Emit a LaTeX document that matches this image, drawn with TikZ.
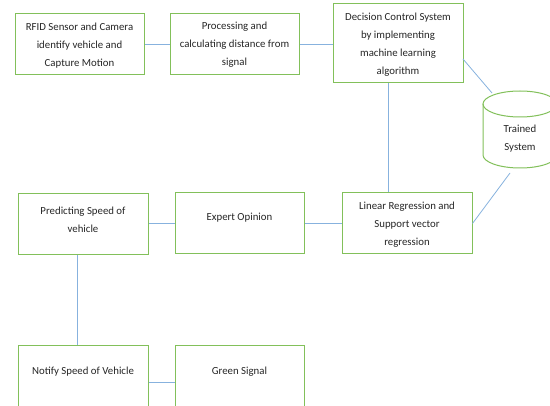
\documentclass[tikz,border=0pt]{standalone}
\usepackage{fontspec}
\setmainfont{Carlito}
\definecolor{boxgreen}{RGB}{130,192,90}
\definecolor{linkblue}{RGB}{135,178,222}
\begin{document}
\begin{tikzpicture}[x=1pt,y=1pt,
  box/.style={draw=boxgreen, line width=1pt, fill=white, minimum width=#1, inner sep=0pt},
  box/.default=129,
  txt/.style={align=center, font=\fontsize{10.8}{18}\selectfont, inner sep=0pt, text=black!85},
  link/.style={draw=linkblue, line width=0.8pt}]
\useasboundingbox (0,0) rectangle (550,-406);
\clip (0,0) rectangle (550,-406);
% boxes
\node[box=129, minimum height=61] (rfid) at (79.5,-44.5) {};
\node[box=129, minimum height=61] (proc) at (234.5,-44.5) {};
\node[box=130, minimum height=79] (dec) at (398,-43.5) {};
\node[box=130, minimum height=61] (lr) at (407,-223.5) {};
\node[box=129, minimum height=61] (exp) at (239.5,-223.5) {};
\node[box=130, minimum height=61] (pred) at (83,-224.5) {};
\node[box=130, minimum height=61] (notify) at (83,-376.5) {};
\node[box=129, minimum height=61] (green) at (239.5,-376.5) {};
% cylinder
\draw[boxgreen, line width=1pt, fill=white]
  (483,-104) -- (483,-155) arc[start angle=180, end angle=360, x radius=37, y radius=13]
  -- (557,-104);
\draw[boxgreen, line width=1pt] (520,-104) ellipse[x radius=37, y radius=13];
% texts
\node[txt] (rfidt) at (79.5,-46) {RFID Sensor and Camera\\identify vehicle and\\Capture Motion};
\node[txt] (proct) at (234.5,-45) {Processing and\\calculating distance from\\signal};
\node[txt] (dect) at (398,-45) {Decision Control System\\by implementing\\machine learning\\algorithm};
\node[txt] (lrt) at (407,-225) {Linear Regression and\\Support vector\\regression};
\node[txt] (expt) at (239.5,-218) {Expert Opinion};
\node[txt] (predt) at (83,-219.5) {Predicting Speed of\\vehicle};
\node[txt] (notifyt) at (83,-372) {Notify Speed of Vehicle};
\node[txt] (greent) at (239.5,-372) {Green Signal};
\node[txt] (cylt) at (520,-139) {Trained\\System};
% connector helpers
\coordinate (vx) at (388,0);
\coordinate (px) at (77,0);
\coordinate (decout) at (463,-59);
\coordinate (cyltop) at (492,-93);
\coordinate (cylbot) at (510,-173);
% connectors
\draw[link] (rfid.east) -- (proc.west);
\draw[link] (proc.east) -- (dec.west |- proc.east);
\draw[link] (dec.south -| vx) -- (lr.north -| vx);
\draw[link] (decout) -- (cyltop);
\draw[link] (cylbot) -- (lr.east);
\draw[link] (lr.west) -- (exp.east);
\draw[link] (exp.west) -- (pred.east |- exp.west);
\draw[link] (pred.south -| px) -- (notify.north -| px);
\draw[link] ([yshift=-5.5pt]notify.east) -- ([yshift=-5.5pt]green.west);
\end{tikzpicture}
\end{document}
